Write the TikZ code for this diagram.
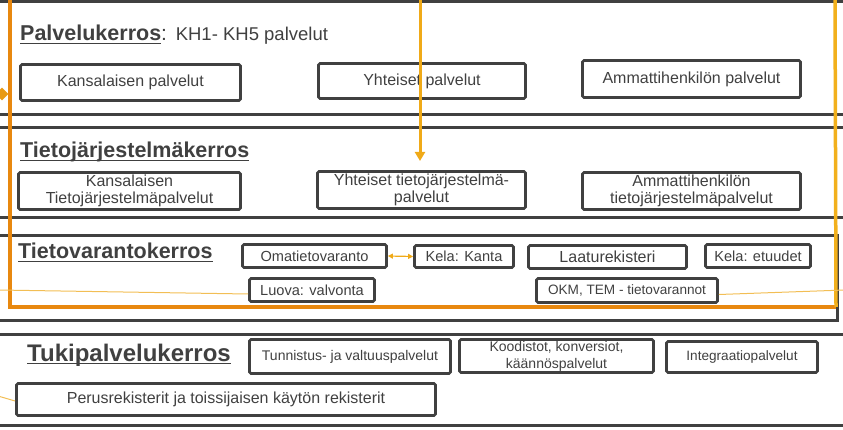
\documentclass[tikz,border=0pt]{standalone}
\usepackage{fontspec}
\setmainfont{Liberation Sans}
\usetikzlibrary{arrows.meta,shapes.geometric}
\definecolor{dgray}{HTML}{404040}
\definecolor{orgA}{HTML}{E8880F}
\definecolor{orgB}{HTML}{F2B01C}
\definecolor{orgC}{HTML}{F0AA18}
\definecolor{orgT}{HTML}{F2BE55}
\definecolor{orgD}{HTML}{E89A15}
\newcommand\myul[1]{\setbox0\hbox{#1}\rlap{\rule[-3.4pt]{\wd0}{1.8pt}}\box0}
\begin{document}
\begin{tikzpicture}[x=1pt,y=-1pt,
  layerline/.style={draw=dgray, line width=3pt},
  boxnode/.style={draw=dgray, line width=2.8pt, rounded corners=1.5pt, inner sep=0pt, text=dgray, align=center},
  titlenode/.style={anchor=base west, inner sep=0pt, text=dgray, font=\bfseries\fontsize{21.5}{24}\selectfont},
  fa/.style={font=\fontsize{16}{17}\selectfont},
  fb/.style={font=\fontsize{14.6}{16}\selectfont},
  fc/.style={font=\fontsize{13.6}{17}\selectfont},
  fd/.style={font=\fontsize{14}{17}\selectfont},
  thinorange/.style={draw=orgT, line width=1pt}
]
\useasboundingbox (0,0) rectangle (843,430);

% layer lines
\draw[layerline] (-5,1.5) -- (850,1.5);
\draw[layerline] (-5,115) -- (850,115);
\draw[layerline] (-5,128) -- (850,128);
\draw[layerline] (-5,218) -- (850,218);
\draw[layerline] (-5,235.5) -- (837,235.5) -- (837,320) -- (-5,320);
\draw[layerline] (-5,334) -- (850,334);
\draw[layerline] (-5,425.5) -- (850,425.5);

% layer titles
\node[titlenode] (t1) at (20,41) {\myul{Palvelukerros}{\mdseries\fontsize{21}{24}\selectfont:}\,{\mdseries\fontsize{18.5}{22}\selectfont\ KH1- KH5 palvelut}};
\node[titlenode] (t2) at (20,158) {\myul{Tietojärjestelmäkerros}};
\node[titlenode] (t3) at (18,259) {\myul{Tietovarantokerros}};
\node[titlenode, font=\bfseries\fontsize{24}{26}\selectfont] (t4) at (27,361) {\myul{Tukipalvelukerros}};

% layer 1
\node[boxnode, fa, minimum width=220pt, minimum height=36pt] (kp) at (130.5,82.5) {Kansalaisen palvelut};
\node[boxnode, fa, minimum width=207pt, minimum height=35pt] (yp) at (422,81) {Yhteiset palvelut};
\node[boxnode, fa, minimum width=218pt, minimum height=37pt] (ap) at (691.5,79) {Ammattihenkilön palvelut};

% layer 2
\node[boxnode, fa, minimum width=222pt, minimum height=37pt] (kt) at (129.5,191) {Kansalaisen\\Tietojärjestelmäpalvelut};
\node[boxnode, fa, minimum width=208pt, minimum height=37pt] (yt) at (421.5,190) {Yhteiset tietojärjestelmä-\\palvelut};
\node[boxnode, fa, minimum width=218pt, minimum height=37pt] (at) at (691.5,191) {Ammattihenkilön\\tietojärjestelmäpalvelut};

% layer 3
\node[boxnode, fb, minimum width=144pt, minimum height=23pt] (om) at (314.5,256) {Omatietovaranto};
\node[boxnode, fb, minimum width=99pt, minimum height=22pt] (kk) at (464,256.5) {Kela: Kanta};
\node[boxnode, fa, minimum width=158pt, minimum height=23pt] (lr) at (607.5,257) {Laaturekisteri};
\node[boxnode, fb, minimum width=105pt, minimum height=23pt] (ke) at (758,256) {Kela: etuudet};
\node[boxnode, fb, minimum width=125pt, minimum height=23pt] (lv) at (312,290) {Luova: valvonta};
\node[boxnode, fc, minimum width=181pt, minimum height=24pt] (okm) at (627,290.5) {OKM, TEM - tietovarannot};

% layer 4
\node[boxnode, fd, minimum width=201pt, minimum height=34pt] (tu) at (350,356.5) {Tunnistus- ja valtuuspalvelut};
\node[boxnode, fd, minimum width=194pt, minimum height=33pt] (ko) at (556.5,356) {Koodistot, konversiot,\\käännöspalvelut};
\node[boxnode, fc, minimum width=151pt, minimum height=31pt] (in) at (742,357) {Integraatiopalvelut};
\node[boxnode, fa, minimum width=419pt, minimum height=32pt] (pr) at (226,399.5) {Perusrekisterit ja toissijaisen käytön rekisterit};

% orange connectors
\coordinate (oTL) at (10,-5);
\coordinate (oBL) at (10,307);
\coordinate (oBR) at (836,307);
\coordinate (oTR) at (835,-5);
\draw[orgA, line width=4pt] (oTL) -- (oBL) -- (oBR);
\draw[orgB, line width=3.5pt] (oBR) -- (oTR);
\node[diamond, fill=orgD, inner sep=0pt, minimum width=13pt, minimum height=13pt] (dm) at (2,94) {};

\coordinate (arTop) at (420,-5);
\coordinate (arEnd) at (420,161);
\draw[orgC, line width=3pt, -{Triangle[width=10pt,length=9pt]}] (arTop) -- (arEnd);

\draw[orgC, line width=1.2pt, {Triangle[width=5pt,length=5pt]}-{Triangle[width=5pt,length=5pt]}] (om.east) -- (kk.west);

\coordinate (lA) at (-2,290);
\draw[thinorange] (lA) -- ([yshift=-4pt]lv.west);
\coordinate (rA) at (845,290);
\draw[thinorange] ([yshift=-4pt]okm.east) -- (rA);
\coordinate (lB) at (-2,396);
\draw[thinorange] (lB) -- ([yshift=-1.5pt]pr.west);
\end{tikzpicture}
\end{document}
